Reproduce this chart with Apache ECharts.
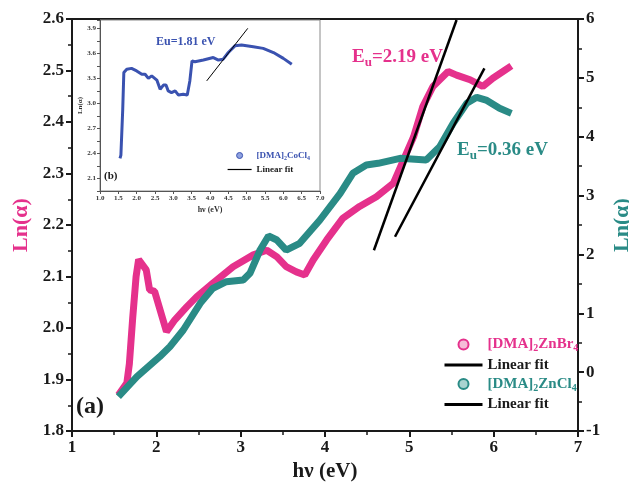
<!DOCTYPE html>
<html><head><meta charset="utf-8">
<script src="https://cdn.jsdelivr.net/npm/echarts@6/dist/echarts.min.js"></script>
<style>html,body{margin:0;padding:0;background:#fff}#c{width:629px;height:494px}</style>
</head><body><div id="c"></div>
<script>
// ---- data ----
const znbr4X = [1.55,1.65,1.68,1.72,1.76,1.79,1.88,1.92,1.98,2.12,2.22,2.36,2.48,2.67,2.91,3.15,3.31,3.43,3.54,3.66,3.76,3.86,4.02,4.21,4.41,4.61,4.81,4.93,5.05,5.16,5.28,5.46,5.56,5.72,5.87,5.99,6.11,6.21];
const znbr4Y = [1.870,1.893,1.930,2.020,2.100,2.133,2.113,2.074,2.071,1.993,2.016,2.041,2.061,2.087,2.119,2.142,2.151,2.138,2.119,2.109,2.103,2.132,2.171,2.213,2.236,2.255,2.281,2.326,2.371,2.430,2.469,2.498,2.491,2.482,2.469,2.485,2.498,2.509];
const zncl4X = [1.55,1.77,2.04,2.16,2.32,2.52,2.67,2.83,3.03,3.11,3.23,3.33,3.43,3.54,3.70,3.94,4.18,4.33,4.49,4.63,4.89,5.20,5.36,5.52,5.68,5.80,5.91,6.07,6.21];
const zncl4Y = [-0.417,-0.078,0.262,0.432,0.716,1.169,1.424,1.537,1.565,1.679,2.075,2.313,2.245,2.075,2.189,2.585,3.038,3.378,3.519,3.548,3.633,3.604,3.830,4.228,4.567,4.669,4.623,4.482,4.397];
const fitBrX = [4.58, 5.56];
const fitBrY = [2.151, 2.598];
const fitClX = [4.83, 5.89];
const fitClY = [2.301, 5.162];
const cocl4X = [1.545,1.57,1.62,1.65,1.73,1.86,2.0,2.14,2.23,2.32,2.41,2.55,2.64,2.73,2.80,2.86,2.95,3.05,3.14,3.27,3.38,3.45,3.51,3.59,3.82,4.09,4.23,4.36,4.50,4.68,4.86,5.18,5.45,5.73,6.0,6.23];
const cocl4Y = [2.34,2.38,2.93,3.37,3.41,3.42,3.39,3.35,3.35,3.30,3.33,3.28,3.17,3.22,3.22,3.15,3.13,3.15,3.10,3.11,3.10,3.27,3.51,3.50,3.52,3.55,3.52,3.53,3.61,3.69,3.70,3.68,3.66,3.61,3.54,3.47];
const fitCoX = [3.91, 5.03];
const fitCoY = [3.27, 3.90];
const legendNames = {ZnBr4:'[DMA]{s|2}ZnBr{s|4}', fitBr:'Linear fit', ZnCl4:'[DMA]{s|2}ZnCl{s|4}', fitCl:'Linear fit', CoCl4:'[DMA]{s|2}CoCl{s|4}', fitCo:'Linear fit'};

// ---- chart ----
const FONT = '"Liberation Serif","Times New Roman",serif';
const PINK = '#e5318c', TEAL = '#2a8b86', BLUE = '#3a52b0', INK = '#1a1a1a';
const zip = (xs, ys) => xs.map((x, i) => [x, ys[i]]);
const bold = (size, color) => ({fontFamily: FONT, fontWeight: 'bold', fontSize: size, color: color || INK});
const hideSym = {opacity: 0};

const mainAxisCommon = {
  axisLine: {onZero: false, lineStyle: {color: INK, width: 2}},
  axisTick: {length: 6, lineStyle: {color: INK, width: 2}},
  minorTick: {show: true, splitNumber: 2, length: 4, lineStyle: {color: INK, width: 1.5}},
  splitLine: {show: false}, minorSplitLine: {show: false}
};
const insetAxisCommon = {
  axisLine: {onZero: false, lineStyle: {color: '#555', width: 1}},
  axisTick: {length: 3, lineStyle: {color: '#555', width: 1}},
  splitLine: {show: false}
};

const chart = echarts.init(document.getElementById('c'));
chart.setOption({
  animation: false,
  backgroundColor: '#fff',
  grid: [
    {left: 72, right: 51, top: 19, bottom: 63, outerBoundsMode: 'none', containLabel: false,
      show: true, borderColor: INK, borderWidth: 2},
    {left: 100, right: 309, top: 20, bottom: 303, outerBoundsMode: 'none', containLabel: false,
      show: true, borderColor: '#8a8a8a', borderWidth: 1}
  ],
  xAxis: [
    Object.assign({}, mainAxisCommon, {type: 'value', gridIndex: 0, min: 1, max: 7, interval: 1,
      axisLabel: Object.assign(bold(17), {margin: 8}),
      name: 'hν (eV)', nameLocation: 'middle', nameGap: 28, nameTextStyle: bold(21)}),
    Object.assign({}, insetAxisCommon, {type: 'value', gridIndex: 1, min: 1, max: 7, interval: 0.5,
      axisLabel: Object.assign(bold(7, '#333'), {margin: 4, formatter: v => v.toFixed(1)}),
      name: 'hν (eV)', nameLocation: 'middle', nameGap: 15, nameTextStyle: bold(8, '#333')})
  ],
  yAxis: [
    Object.assign({}, mainAxisCommon, {type: 'value', gridIndex: 0, position: 'left', min: 1.8, max: 2.6, interval: 0.1,
      axisLabel: Object.assign(bold(17), {margin: 8, formatter: v => v.toFixed(1)}),
      name: 'Ln(α)', nameLocation: 'middle', nameGap: 34, nameRotate: 90, nameTextStyle: bold(22, PINK)}),
    Object.assign({}, mainAxisCommon, {type: 'value', gridIndex: 0, position: 'right', min: -1, max: 6, interval: 1,
      axisLabel: Object.assign(bold(17), {margin: 8}),
      name: 'Ln(α)', nameLocation: 'middle', nameGap: 30, nameRotate: 90, nameTextStyle: bold(22, TEAL)}),
    Object.assign({}, insetAxisCommon, {type: 'value', gridIndex: 1, min: 1.95, max: 4.0, interval: 0.15,
      axisLabel: Object.assign(bold(7, '#333'), {margin: 4,
        formatter: v => (Math.round(v / 0.15) % 2 === 0 ? v.toFixed(1) : '')}),
      name: 'Ln(α)', nameLocation: 'middle', nameGap: 14, nameRotate: 90, nameTextStyle: bold(7, '#333')})
  ],
  legend: [
    {orient: 'vertical', left: 443, top: 337, padding: 0, itemWidth: 38, itemHeight: 10, itemGap: 4, selectedMode: false,
      formatter: n => legendNames[n],
      textStyle: Object.assign(bold(15), {rich: {s: {fontSize: 10, fontWeight: 'bold', fontFamily: FONT, padding: [8, 0, 0, 0]}}}),
      data: [
        {name: 'ZnBr4', icon: 'circle', itemStyle: {color: '#f5bcd7', borderColor: PINK, borderWidth: 2}, textStyle: {color: PINK}},
        {name: 'fitBr', itemStyle: hideSym, lineStyle: {color: '#000', width: 3}},
        {name: 'ZnCl4', icon: 'circle', itemStyle: {color: '#a9d3d0', borderColor: TEAL, borderWidth: 2}, textStyle: {color: TEAL}},
        {name: 'fitCl', itemStyle: hideSym, lineStyle: {color: '#000', width: 3}}
      ]},
    {orient: 'vertical', left: 227, top: 151, padding: 0, itemWidth: 24, itemHeight: 6, itemGap: 4, selectedMode: false,
      formatter: n => legendNames[n],
      textStyle: Object.assign(bold(9), {rich: {s: {fontSize: 6, fontWeight: 'bold', fontFamily: FONT, padding: [5, 0, 0, 0]}}}),
      data: [
        {name: 'CoCl4', icon: 'circle', itemStyle: {color: '#8fa2e0', borderColor: BLUE, borderWidth: 1}, textStyle: {color: BLUE}},
        {name: 'fitCo', itemStyle: hideSym, lineStyle: {color: '#000', width: 1.2}}
      ]}
  ],
  graphic: [
    {type: 'text', left: 352, top: 48, z: 10, style: {text: '{a|E}{b|u}{a|=2.19 eV}', fill: PINK,
      rich: {a: {fontSize: 19, fontWeight: 'bold', fontFamily: FONT, fill: PINK},
             b: {fontSize: 13, fontWeight: 'bold', fontFamily: FONT, fill: PINK, padding: [10, 0, 0, 0]}}}},
    {type: 'text', left: 457, top: 141, z: 10, style: {text: '{a|E}{b|u}{a|=0.36 eV}', fill: TEAL,
      rich: {a: {fontSize: 19, fontWeight: 'bold', fontFamily: FONT, fill: TEAL},
             b: {fontSize: 13, fontWeight: 'bold', fontFamily: FONT, fill: TEAL, padding: [10, 0, 0, 0]}}}},
    {type: 'text', left: 76, top: 395, z: 10, style: {text: '(a)', fill: INK, fontSize: 24, fontWeight: 'bold', fontFamily: FONT}},
    {type: 'text', left: 156, top: 36, z: 10, style: {text: 'Eu=1.81 eV', fill: BLUE, fontSize: 12, fontWeight: 'bold', fontFamily: FONT}},
    {type: 'text', left: 104, top: 171, z: 10, style: {text: '(b)', fill: INK, fontSize: 11, fontWeight: 'bold', fontFamily: FONT}}
  ],
  series: [
    {name: 'ZnBr4', type: 'line', xAxisIndex: 0, yAxisIndex: 0, data: zip(znbr4X, znbr4Y), symbol: 'none',
      lineStyle: {color: PINK, width: 7}, itemStyle: {color: PINK}, z: 3},
    {name: 'ZnCl4', type: 'line', xAxisIndex: 0, yAxisIndex: 1, data: zip(zncl4X, zncl4Y), symbol: 'none',
      lineStyle: {color: TEAL, width: 7}, itemStyle: {color: TEAL}, z: 3},
    {name: 'fitBr', type: 'line', xAxisIndex: 0, yAxisIndex: 0, data: zip(fitBrX, fitBrY), symbol: 'none',
      lineStyle: {color: '#000', width: 2.5}, itemStyle: {color: '#000'}, z: 4},
    {name: 'fitCl', type: 'line', xAxisIndex: 0, yAxisIndex: 1, data: zip(fitClX, fitClY), symbol: 'none',
      lineStyle: {color: '#000', width: 2.5}, itemStyle: {color: '#000'}, z: 4},
    {name: 'CoCl4', type: 'line', xAxisIndex: 1, yAxisIndex: 2, data: zip(cocl4X, cocl4Y), symbol: 'none',
      lineStyle: {color: BLUE, width: 3}, itemStyle: {color: BLUE}, z: 3},
    {name: 'fitCo', type: 'line', xAxisIndex: 1, yAxisIndex: 2, data: zip(fitCoX, fitCoY), symbol: 'none',
      lineStyle: {color: '#000', width: 1}, itemStyle: {color: '#000'}, z: 4}
  ]
});
</script></body></html>
